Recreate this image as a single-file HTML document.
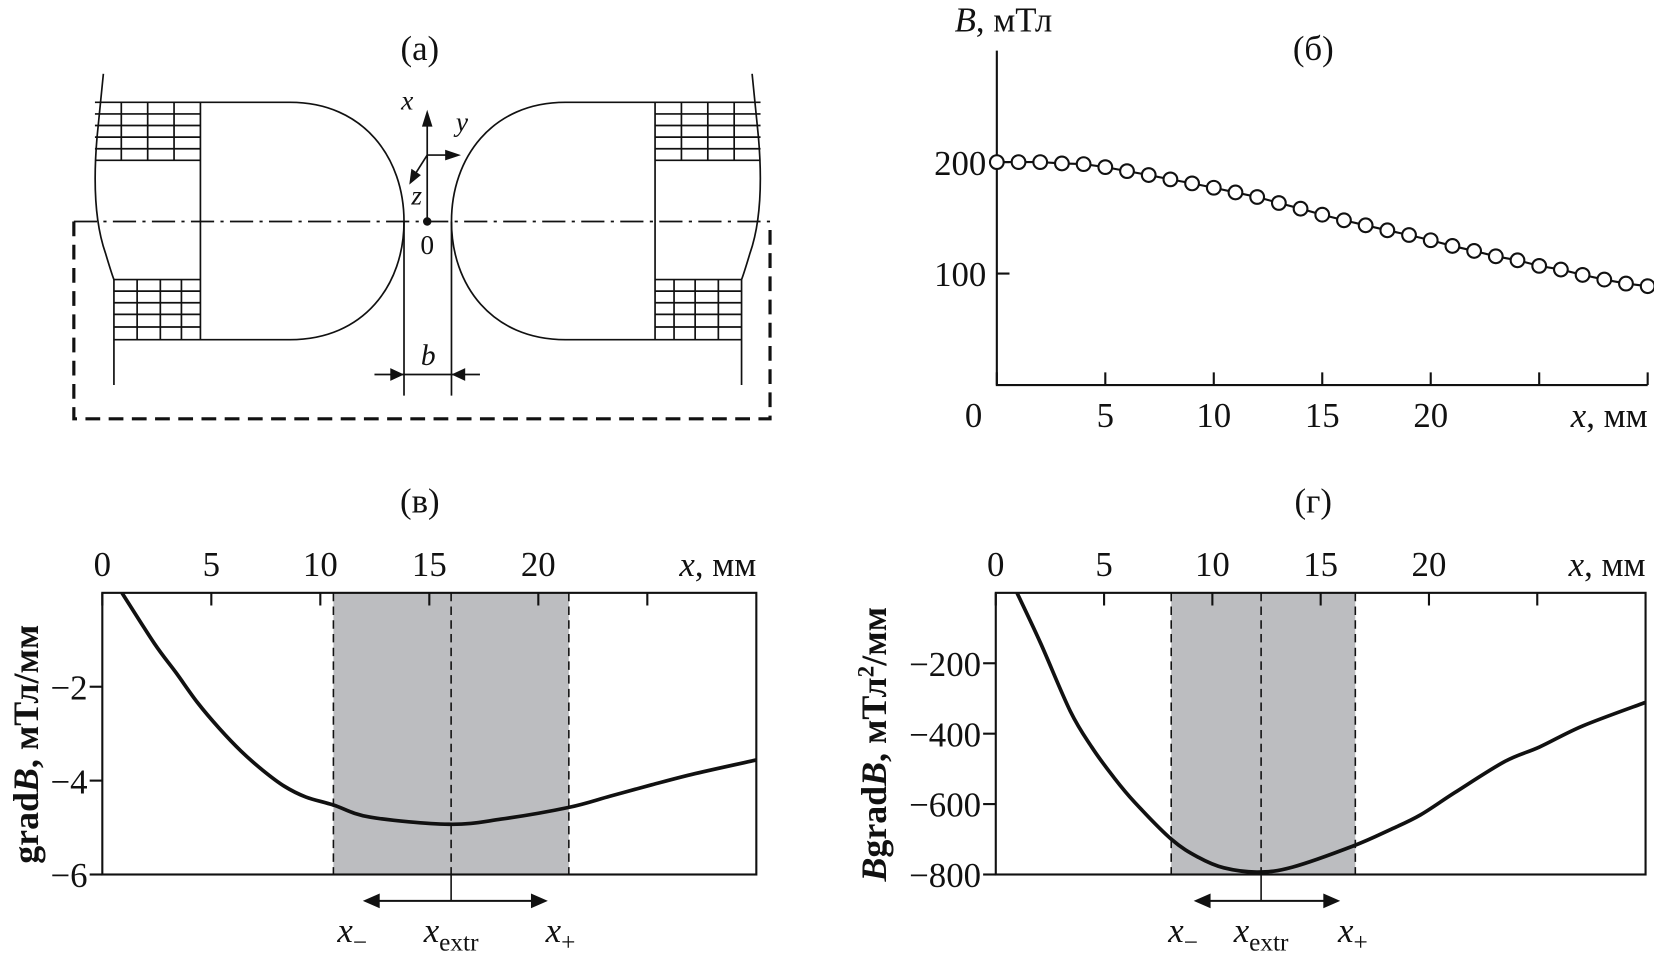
<!DOCTYPE html>
<html><head><meta charset="utf-8">
<style>
html,body{margin:0;padding:0;background:#fff;}
svg{display:block;font-family:"Liberation Serif",serif;}
text{fill:#111;font-family:"Liberation Serif",serif;}
</style></head>
<body>
<svg id="fig" width="1654" height="961" viewBox="0 0 1568 911" preserveAspectRatio="none" xmlns="http://www.w3.org/2000/svg">
<g id="panel-a" stroke="#111" fill="none" stroke-width="1.6">
  <text x="398" y="57" font-size="33" text-anchor="middle" stroke="none">(a)</text>
  <line x1="70" y1="210" x2="730" y2="210" stroke-dasharray="22,6,3,6"/>
  <path d="M70,210 V397 H730 V210" stroke-width="3" stroke-dasharray="14,8"/>
  <g>
    <path d="M98,70 L92,130 Q86,200 100,240 Q106,260 108,265 L108,365"/>
    <line x1="190" y1="97" x2="190" y2="322"/>
    <path d="M90,97 H275 C345,97 383,150 383,210 C383,270 345,322 275,322 H108"/>
    <path d="M90,152 H190 M108,265 H190"/>
    <path d="M90,108H190M90,119H190M90,130H190M90,141H190M115,97V152M140,97V152M165,97V152"/>
    <path d="M108,276H190M108,287H190M108,298H190M108,310H190M130,265V322M152,265V322M172,265V322"/>
  </g>
  <g transform="translate(811,0) scale(-1,1)">
    <path d="M98,70 L92,130 Q86,200 100,240 Q106,260 108,265 L108,365"/>
    <line x1="190" y1="97" x2="190" y2="322"/>
    <path d="M90,97 H275 C345,97 383,150 383,210 C383,270 345,322 275,322 H108"/>
    <path d="M90,152 H190 M108,265 H190"/>
    <path d="M90,108H190M90,119H190M90,130H190M90,141H190M115,97V152M140,97V152M165,97V152"/>
    <path d="M108,276H190M108,287H190M108,298H190M108,310H190M130,265V322M152,265V322M172,265V322"/>
  </g>
  <path d="M383,210V375M428,210V375"/>
  <line x1="355" y1="355" x2="455" y2="355"/>
  <path d="M383,355 l-13,-6 v12z M428,355 l13,-6 v12z" fill="#111" stroke="none"/>
  <text x="406" y="346" font-size="28" font-style="italic" text-anchor="middle" stroke="none">b</text>
  <line x1="405" y1="210" x2="405" y2="112"/>
  <path d="M405,104 l-5,16 h10z" fill="#111" stroke="none"/>
  <line x1="405" y1="147" x2="428" y2="147"/>
  <path d="M437,147 l-15,-5 v10z" fill="#111" stroke="none"/>
  <line x1="405" y1="147" x2="393" y2="166"/>
  <path d="M388,175 l2,-15 l9,6z" fill="#111" stroke="none"/>
  <circle cx="405" cy="210" r="4" fill="#111" stroke="none"/>
  <g stroke="none" font-size="26" font-style="italic">
    <text x="386" y="104" text-anchor="middle">x</text>
    <text x="438" y="124" text-anchor="middle">y</text>
    <text x="395" y="194" text-anchor="middle">z</text>
    <text x="405" y="241" font-style="normal" text-anchor="middle">0</text>
  </g>
</g>
<g id="panel-b"></g>
<g id="panel-v"></g>
<g id="panel-g"></g>
</svg>
<script>
// Panel (б): B vs x
const bX = [0,1,2,3,4,5,6,7,8,9,10,11,12,13,14,15,16,17,18,19,20,21,22,23,24,25,26,27,28,29,30];
const bVals = [200,200,200,198.8,198.2,195.5,191.9,188.4,184.5,180.9,177,172.8,168.7,163.3,158.2,152.8,147.8,143.3,138.8,134.6,129.9,124.8,120.3,115.5,111.9,106.9,103.6,98.8,94.6,91,88.7];
const bXTicks = [0,5,10,15,20,25,30];
const bXTickLabels = ["0","5","10","15","20","",""];
const bYTicks = [100,200];
// Panel (в): grad B
const gX = [0.9,2.39,3.38,4.37,5.37,6.36,7.36,8.35,9.34,10.6,12.3,15.9,18.3,21.4,23.3,25.2,27.2,30];
const gVals = [0,-1.08,-1.7,-2.34,-2.89,-3.37,-3.78,-4.12,-4.35,-4.52,-4.78,-4.93,-4.82,-4.57,-4.33,-4.09,-3.85,-3.56];
const gYTicks = [-2,-4,-6];
const gBand = [10.6,16,21.4];
// Panel (г): B grad B
const fX = [0.98,2.07,3.44,4.43,5.41,6.4,8.11,9.35,10.53,12.1,13.7,16.5,18.2,19.6,21.2,23.5,25.1,27.1,30];
const fVals = [0,-143,-336,-438,-521,-594,-700,-751,-781,-793,-779,-719,-673,-631,-567,-479,-438,-378,-311];
const fYTicks = [-200,-400,-600,-800];
const fBand = [8.1,12.25,16.6];
const topTicks = [0,5,10,15,20,25];
const topTickLabels = ["0","5","10","15","20",""];

const NS="http://www.w3.org/2000/svg";
const FS=33;
function mk(parent,tag,attrs,txt){const e=document.createElementNS(NS,tag);for(const k in attrs)e.setAttribute(k,attrs[k]);if(txt!==undefined)e.textContent=txt;parent.appendChild(e);return e;}
function smooth(pts){let d="M"+pts[0][0]+","+pts[0][1];for(let i=0;i<pts.length-1;i++){const p0=pts[Math.max(i-1,0)],p1=pts[i],p2=pts[i+1],p3=pts[Math.min(i+2,pts.length-1)];
 const c1=[p1[0]+(p2[0]-p0[0])/6,p1[1]+(p2[1]-p0[1])/6],c2=[p2[0]-(p3[0]-p1[0])/6,p2[1]-(p3[1]-p1[1])/6];d+=" C"+c1+" "+c2+" "+p2;}return d;}

(function(){
 const g=document.getElementById('panel-b');
 const L=945,R=1562,T=48,B=365,x=v=>L+(v/30)*(R-L),y=v=>B-(v/300)*(B-T);
 mk(g,'path',{d:`M${L},${T} V${B} H${R}`,stroke:'#111',fill:'none','stroke-width':2});
 const xt=mk(g,'g',{});
 
 
 bXTicks.forEach((t,i)=>{mk(xt,'line',{x1:x(t),x2:x(t),y1:B,y2:B-12,stroke:'#111','stroke-width':2});if(bXTickLabels[i])mk(xt,'text',{x:t===0?x(t)-22:x(t),y:B+40,'font-size':FS,'text-anchor':'middle'},bXTickLabels[i]);});
 bYTicks.forEach(t=>{mk(g,'line',{x1:L,x2:L+12,y1:y(t),y2:y(t),stroke:'#111','stroke-width':2});const tl=mk(g,'text',{x:L-10,y:y(t)+12,'font-size':FS,'text-anchor':'end'},String(t));});
 const t1=mk(g,'text',{x:L-40,y:30,'font-size':FS});
 
 
 t1.innerHTML='<tspan font-style="italic">B</tspan>, мТл';
 const t2=mk(g,'text',{x:R,y:B+40,'font-size':FS,'text-anchor':'end'});
 
 
 t2.innerHTML='<tspan font-style="italic">x</tspan>, мм';
 const lb=mk(g,'text',{x:1245,y:57,'font-size':FS,'text-anchor':'middle'},'(б)');
 
 
 const ln=mk(g,'polyline',{points:bX.map((v,i)=>x(v)+','+y(bVals[i])).join(' '),fill:'none',stroke:'#111','stroke-width':2});
 
 
 bX.forEach((v,i)=>{const c=mk(g,'circle',{cx:x(v),cy:y(bVals[i]),r:6.5,fill:'#fff',stroke:'#111','stroke-width':2});
  
  });
})();

function bandChart(id,label,lx,L,R,T,B,ymin,ymax,xs,vals,yTicks,band,titleHTML,titleX){
 const g=document.getElementById(id);
 const x=v=>L+(v/30)*(R-L),y=v=>T+(ymax-v)/(ymax-ymin)*(B-T);
 const lb=mk(g,'text',{x:lx,y:486,'font-size':FS,'text-anchor':'middle'},label);
 
 
 const sh=mk(g,'rect',{x:x(band[0]),y:T,width:x(band[2])-x(band[0]),height:B-T,fill:'#bcbdc0'});
 
 
 band.forEach(b=>mk(g,'line',{x1:x(b),x2:x(b),y1:T,y2:B,stroke:'#111','stroke-width':1.5,'stroke-dasharray':'8,5'}));
 mk(g,'line',{x1:x(band[1]),x2:x(band[1]),y1:B,y2:B+25,stroke:'#111','stroke-width':1.5});
 mk(g,'rect',{x:L,y:T,width:R-L,height:B-T,fill:'none',stroke:'#111','stroke-width':2});
 topTicks.forEach((t,i)=>{mk(g,'line',{x1:x(t),x2:x(t),y1:T,y2:T+12,stroke:'#111','stroke-width':2});if(topTickLabels[i])mk(g,'text',{x:x(t),y:T-16,'font-size':FS,'text-anchor':'middle'},topTickLabels[i]);});
 yTicks.forEach(t=>{mk(g,'line',{x1:L-12,x2:L,y1:y(t),y2:y(t),stroke:'#111','stroke-width':2});const tl=mk(g,'text',{x:L-14,y:y(t)+12,'font-size':FS,'text-anchor':'end'},'\u2212'+Math.abs(t));});
 const xt=mk(g,'text',{x:R,y:T-16,'font-size':FS,'text-anchor':'end'});
 
 
 xt.innerHTML='<tspan font-style="italic">x</tspan>, мм';
 const yt=mk(g,'text',{x:0,y:0,'font-size':34,'text-anchor':'middle','font-weight':'bold',transform:`translate(${titleX},${(T+B)/2+10}) rotate(-90)`});
 
 
 yt.innerHTML=titleHTML;
 const cv=mk(g,'path',{d:smooth(xs.map((v,i)=>[x(v),y(vals[i])])),fill:'none',stroke:'#111','stroke-width':3.5});
 
 
 const a0=x(band[0])+(x(band[1])-x(band[0]))*0.25, a1=x(band[2])-(x(band[2])-x(band[1]))*0.25+8, ay=B+25;
 const ar=mk(g,'line',{x1:a0+10,x2:a1-10,y1:ay,y2:ay,stroke:'#111','stroke-width':2});
 
 
 mk(g,'path',{d:`M${a0},${ay} l16,-7 v14z M${a1},${ay} l-16,-7 v14z`,fill:'#111'});
 const labs=[[a0-10,'x','\u2212'],[x(band[1]),'x','extr'],[a1+12,'x','+']];
 labs.forEach(l=>{const t=mk(g,'text',{x:l[0],y:B+64,'font-size':FS,'text-anchor':'middle'});
  
  
  t.innerHTML=`<tspan font-style="italic">${l[1]}</tspan><tspan font-size="24" dy="8">${l[2]}</tspan>`;});
}
bandChart('panel-v','(в)',398,97,717,562,829,-6,0,gX,gVals,gYTicks,gBand,'grad<tspan font-style="italic">B</tspan>, мТл/мм',36);
bandChart('panel-g','(г)',1245,944,1560,562,829,-800,0,fX,fVals,fYTicks,fBand,'<tspan font-style="italic">B</tspan>grad<tspan font-style="italic">B</tspan>, мТл<tspan font-size="22" dy="-12">2</tspan><tspan dy="12">/мм</tspan>',840);
</script>
</body></html>
